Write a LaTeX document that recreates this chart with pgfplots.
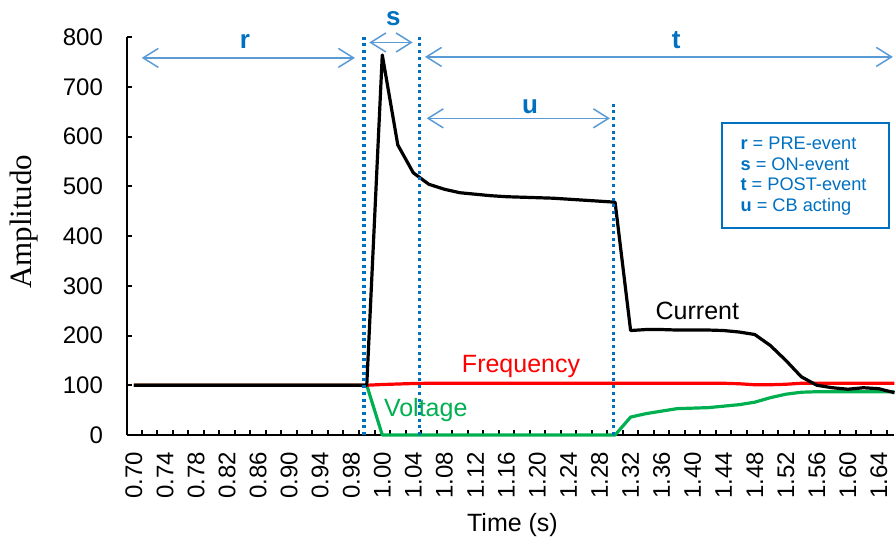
\documentclass[border=0pt]{standalone}
\usepackage{fontspec}
\setmainfont{Liberation Sans}
\newfontfamily\seriffont{Liberation Serif}
\usepackage{pgfplots}
\usepackage{pgfplotstable}
\pgfplotsset{compat=1.18}
\usetikzlibrary{arrows.meta}
\definecolor{xlblue}{RGB}{0,112,192}
\definecolor{arrblue}{RGB}{91,155,213}
\definecolor{xlgreen}{RGB}{0,176,80}
\definecolor{xlred}{RGB}{255,0,0}

\pgfplotstableread{
i cur volt freq
0 100 100 100
1 100 100 100
2 100 100 100
3 100 100 100
4 100 100 100
5 100 100 100
6 100 100 100
7 100 100 100
8 100 100 100
9 100 100 100
10 100 100 100
11 100 100 100
12 100 100 100
13 100 100 100
14 100 100 100
15 100 100 100
16 764 0 101.5
17 583 0 102.5
18 527 0 103.5
19 504 0 104
20 494 0 104
21 487 0 104
22 484 0 104
23 481 0 104
24 479 0 104
25 478 0 104
26 477 0 104
27 476 0 104
28 474 0 104
29 472 0 104
30 470 0 104
31 468 0 104
32 210 36 104
33 212 43 104
34 212 48 104
35 211 53 104
36 211 54 104
37 211 55 104
38 210 58 104
39 207 61 103
40 202 66 101
41 180 75 101
42 150 82 102
43 117 86 104
44 100 87 104
45 95 87 104
46 92 87 104
47 95 87 104
48 93 87 104
49 85 87 104
}\datatable

\begin{document}
\begin{tikzpicture}
\begin{axis}[
  scale only axis, width=383.5pt, height=199pt,
  xmin=-0.4485, xmax=48.97, ymin=0, ymax=800,
  axis lines=left, axis line style={-, line width=1pt, black},
  clip=false,
  tick align=inside,
  major tick length=2.6pt, minor tick length=2.6pt,
  every tick/.style={black, line width=1pt},
  xtick={0,2,...,48},
  xticklabels={0.70,0.74,0.78,0.82,0.86,0.90,0.94,0.98,1.00,1.04,1.08,1.12,1.16,1.20,1.24,1.28,1.32,1.36,1.40,1.44,1.48,1.52,1.56,1.60,1.64},
  major x tick style={draw=none},
  minor xtick={0.5,1.5,...,48.5},
  ytick={0,100,...,800},
  /pgf/number format/assume math mode=true,
  xticklabel style={font=\fontsize{12}{14}\selectfont, rotate=90, anchor=east},
  xticklabel shift=5pt,
  yticklabel style={font=\fontsize{12}{14}\selectfont},
  yticklabel shift=8.5pt,
  xlabel={Time (s)},
  xlabel style={font=\fontsize{12.5}{15}\selectfont, at={(axis description cs:0.5026,-0.226)}, anchor=center},
  ylabel={\seriffont Amplitudo},
  ylabel style={font=\fontsize{15.5}{18}\selectfont, at={(axis description cs:-0.1343,0.536)}, anchor=center},
]
\addplot[xlgreen, line width=1.6pt, line join=round] table[x=i, y=volt] {\datatable};
\addplot[xlred, line width=1.6pt, line join=round] table[x=i, y=freq] {\datatable};
\addplot[black, line width=1.6pt, line join=round] table[x=i, y=cur] {\datatable};

% dotted separators
\tikzset{sep/.style={xlblue, line width=1.6pt, dash pattern=on 1.5pt off 1.85pt}}
\draw[sep] (axis cs:14.82,0) -- (axis cs:14.82,808);
\draw[sep] (axis cs:18.39,0) -- (axis cs:18.39,808);
\draw[sep] (axis cs:30.92,0) -- (axis cs:30.92,670);

% range arrows
\tikzset{rng/.style={arrblue, line width=0.75pt, {Straight Barb[length=7.6pt,width=9.5pt]}-{Straight Barb[length=7.6pt,width=9.5pt]}}}
\draw[rng] (axis cs:0.5,758) -- (axis cs:14.24,758);
\draw[rng] (axis cs:15.16,789) -- (axis cs:17.96,789);
\draw[rng] (axis cs:18.75,760) -- (axis cs:48.9,760);
\draw[rng] (axis cs:18.86,636.5) -- (axis cs:30.67,636.5);

\node[text=xlblue, font=\fontsize{13}{15}\selectfont\bfseries] at (axis cs:7.15,790) {r};
\node[text=xlblue, font=\fontsize{13}{15}\selectfont\bfseries] at (axis cs:16.71,836) {s};
\node[text=xlblue, font=\fontsize{13}{15}\selectfont\bfseries] at (axis cs:34.93,794) {t};
\node[text=xlblue, font=\fontsize{13}{15}\selectfont\bfseries] at (axis cs:25.52,659) {u};

% series labels
\node[font=\fontsize{12.5}{15}\selectfont, text=black] at (axis cs:36.3,250) {Current};
\node[font=\fontsize{12.5}{15}\selectfont, text=xlred] at (axis cs:24.94,138) {Frequency};
\node[font=\fontsize{12.5}{15}\selectfont, text=xlgreen] at (axis cs:18.8,50) {Voltage};

% key box
\draw[xlblue, line width=1pt] (axis cs:37.87,626.5) rectangle (axis cs:48.65,415.5);
\node[anchor=west, align=left, text=xlblue, font=\fontsize{9.1}{10.35}\selectfont, inner sep=0pt] at (axis cs:39.06,520.6)
  {\textbf{r} = PRE-event\\ \textbf{s} = ON-event\\ \textbf{t} = POST-event\\ \textbf{u} = CB acting};

\coordinate (bbsw) at (axis cs:-8.631,-211.06);
\coordinate (bbne) at (axis cs:49.036,874.4);
\end{axis}
\pgfresetboundingbox
\path[use as bounding box] (bbsw) rectangle (bbne);
\end{tikzpicture}
\end{document}
